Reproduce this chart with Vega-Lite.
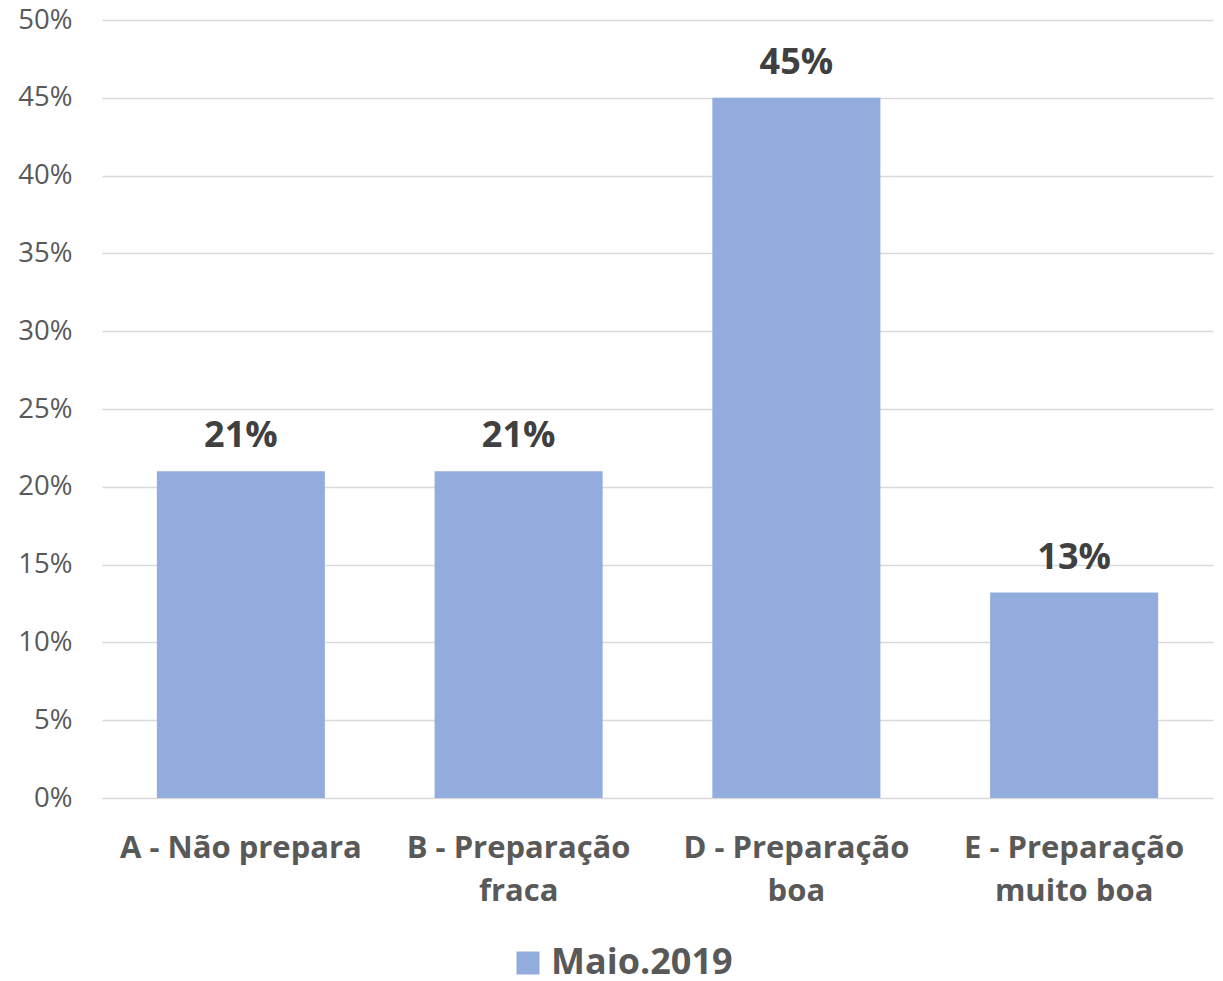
{
  "$schema": "https://vega.github.io/schema/vega-lite/v6.json",
  "width": 1111,
  "height": 778,
  "autosize": {"type": "none"},
  "padding": {"left": 102, "top": 20, "right": 10, "bottom": 183},
  "background": "white",
  "config": {
    "view": {"stroke": null},
    "font": "Open Sans"
  },
  "data": {
    "values": [
      {"categoria": "A - Não prepara", "valor": 0.21, "serie": "Maio.2019"},
      {"categoria": "B - Preparação fraca", "valor": 0.21, "serie": "Maio.2019"},
      {"categoria": "D - Preparação boa", "valor": 0.45, "serie": "Maio.2019"},
      {"categoria": "E - Preparação muito boa", "valor": 0.132, "serie": "Maio.2019"}
    ]
  },
  "encoding": {
    "x": {
      "field": "categoria",
      "type": "nominal",
      "sort": null,
      "scale": {"paddingInner": 0.395, "paddingOuter": 0.1975},
      "axis": {
        "title": null,
        "labelAngle": 0,
        "labelFont": "Open Sans",
        "labelFontSize": 31,
        "labelFontWeight": "bold",
        "labelColor": "#595959",
        "labelPadding": 35,
        "labelLineHeight": 43,
        "labelLimit": 400,
        "domain": false,
        "ticks": false,
        "labelExpr": "indexof(datum.value, 'Preparação') >= 0 ? [slice(datum.value, 0, indexof(datum.value, 'Preparação') + 10), slice(datum.value, indexof(datum.value, 'Preparação') + 11)] : datum.value"
      }
    },
    "y": {
      "field": "valor",
      "type": "quantitative",
      "scale": {"domain": [0, 0.5], "nice": false},
      "axis": {
        "title": null,
        "format": ".0%",
        "values": [0, 0.05, 0.1, 0.15, 0.2, 0.25, 0.3, 0.35, 0.4, 0.45, 0.5],
        "labelFont": "Open Sans",
        "labelFontSize": 27.5,
        "labelColor": "#595959",
        "labelPadding": 30,
        "domain": false,
        "ticks": false,
        "grid": true,
        "gridColor": "#D9D9D9",
        "gridWidth": 1.5
      }
    }
  },
  "layer": [
    {
      "mark": {"type": "bar", "strokeWidth": 0},
      "encoding": {
        "color": {
          "field": "serie",
          "type": "nominal",
          "scale": {"range": ["#92ADDD"]},
          "legend": {
            "title": null,
            "orient": "none",
            "legendX": 408,
            "legendY": 925,
            "padding": 0,
            "symbolType": "square",
            "symbolSize": 529,
            "symbolStrokeWidth": 0,
            "labelFont": "Open Sans",
            "labelFontSize": 36,
            "labelFontWeight": "bold",
            "labelColor": "#595959",
            "labelOffset": 5,
            "labelLimit": 400
          }
        }
      }
    },
    {
      "mark": {
        "type": "text",
        "font": "Open Sans",
        "fontSize": 36,
        "fontWeight": "bold",
        "color": "#404040",
        "baseline": "alphabetic",
        "dy": -24
      },
      "encoding": {
        "text": {"field": "valor", "type": "quantitative", "format": ".0%"}
      }
    }
  ]
}
